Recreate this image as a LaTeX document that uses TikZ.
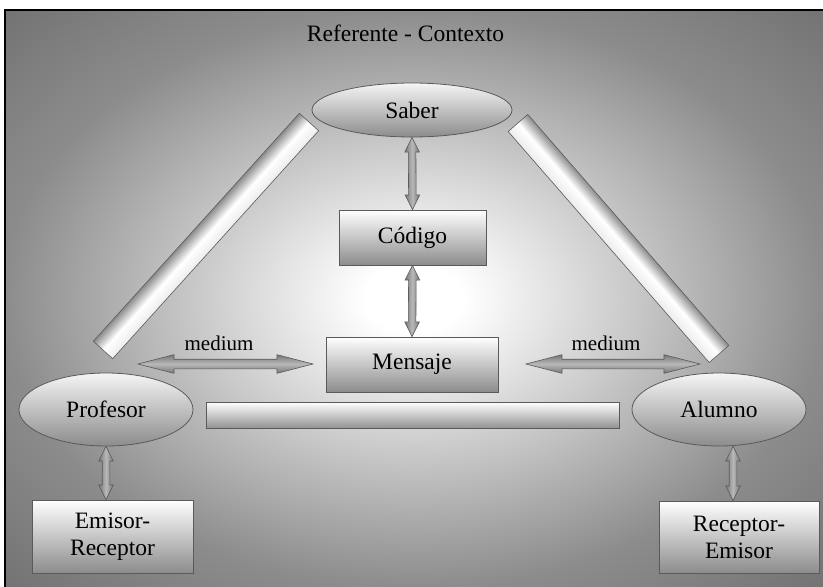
\documentclass[tikz,border=0pt]{standalone}
\usepackage{fontspec}
\setmainfont{Liberation Serif}
\usetikzlibrary{calc,shapes.geometric,shapes.arrows}

\definecolor{bgedge}{HTML}{8C8C8C}
\definecolor{bgcorner}{HTML}{747474}
\definecolor{rimgray}{HTML}{5A5A5A}
\definecolor{arrgray}{HTML}{777777}
\definecolor{arrlight}{HTML}{B8B8B8}

\pgfdeclareradialshading{fondo}{\pgfpointorigin}{color(0bp)=(white); color(3bp)=(white); color(25bp)=(bgedge); color(35bp)=(bgcorner); color(50bp)=(bgcorner)}

% tramo sombreado (flecha o barra) entre dos puntos
\newcommand{\tramo}[4]{%
  \path let \p1=#3, \p2=#4,
    \n1={atan2(\y2-\y1,\x2-\x1)}, \n2={veclen(\x2-\x1,\y2-\y1)} in
    \pgfextra{\xdef\tramoang{\n1}\xdef\tramolen{\n2}};
  \coordinate (#2-c) at ($#3!0.5!#4$);
  \begin{scope}[transform canvas={shift={(#2-c)}, rotate=\tramoang}]
    \node[#1, largo=\tramolen] (#2) at (0,0) {};
  \end{scope}}

\begin{document}
\begin{tikzpicture}[x=1pt, y=-1pt,
  texto/.style={font=\fontsize{23.5}{27}\selectfont},
  elipse/.style={ellipse, draw=rimgray, line width=0.8, top color=white!92!gray, bottom color=gray!90, inner sep=0, texto},
  caja/.style={rectangle, draw=rimgray, line width=0.8, top color=white, bottom color=gray!90, inner sep=0, align=center, texto},
  etiqueta/.style={font=\fontsize{21}{24}\selectfont, inner sep=0},
  flecha/.style={double arrow, draw=rimgray, line width=0.6, inner xsep=0, top color=arrgray, bottom color=arrgray, middle color=arrlight, largo/.style={minimum height=##1}},
  flechav/.style={flecha, inner ysep=3.5, double arrow head extend=3.5, double arrow tip angle=53},
  flechah/.style={flecha, inner ysep=4.5, double arrow head extend=4.5, double arrow tip angle=29},
  barra/.style={rectangle, draw=rimgray, line width=0.6, inner sep=0, minimum height=26, top color=white, bottom color=gray!85, largo/.style={minimum width=##1}},
  barrad/.style={barra, top color=gray!90, bottom color=white!85!gray, middle color=white}]

\useasboundingbox (0,0) rectangle (823,587);
\fill[white] (0,0) rectangle (823,587);

% Fondo y marco
\shade[shading=fondo] (5,10) rectangle (823,587);
\draw[line width=2.3] (5.3,587) -- (5.3,10) -- (823,10);

% Titulo
\node[texto, anchor=base] (titulo) at (405.5,41.7) {Referente - Contexto};

% Nodos
\node[elipse, minimum width=200, minimum height=54] (saber) at (412,110) {Saber};
\node[caja, minimum width=147, minimum height=55] (codigo) at (412.5,237.5) {Código};
\node[caja, minimum width=172, minimum height=55] (mensaje) at (412,364.5) {Mensaje};
\node[elipse, minimum width=174, minimum height=73] (profesor) at (106,409.5) {Profesor};
\node[elipse, minimum width=174, minimum height=73] (alumno) at (719,409.5) {Alumno};
\node[caja, minimum width=161, minimum height=73] (emisor) at (112.5,536.5) {Emisor-\\Receptor};
\node[caja, minimum width=160, minimum height=72] (receptor) at (739,537) {Receptor-\\Emisor};

% Extremos libres
\coordinate (mi1) at (138,364);
\coordinate (mi2) at (313,364);
\coordinate (md1) at (526,364);
\coordinate (md2) at (700,364);
\coordinate (pe) at (profesor.south |- emisor.north);
\coordinate (ai) at ($(alumno.south)+(14,0)$);
\coordinate (ar) at (ai |- receptor.north);
\coordinate (bi1) at (103,350);
\coordinate (bi2) at (309,122);
\coordinate (bd1) at (518,123);
\coordinate (bd2) at (719,354);
\coordinate (bh1) at (206,415);
\coordinate (bh2) at (619,415);

% Barras del triangulo
\tramo{barrad}{ladoizq}{(bi1)}{(bi2)}
\tramo{barrad}{ladoder}{(bd1)}{(bd2)}
\tramo{barra}{base}{(bh1)}{(bh2)}

% Flechas
\tramo{flechav}{f1}{(saber.south)}{(codigo.north)}
\tramo{flechav}{f2}{(codigo.south)}{(mensaje.north)}
\tramo{flechah}{f3}{(mi1)}{(mi2)}
\tramo{flechah}{f4}{(md1)}{(md2)}
\tramo{flechav}{f5}{(profesor.south)}{(pe)}
\tramo{flechav}{f6}{(ai)}{(ar)}

% Etiquetas
\node[etiqueta, anchor=base] (med1) at (219,350) {medium};
\node[etiqueta, anchor=base] (med2) at (606,350) {medium};

\end{tikzpicture}
\end{document}
